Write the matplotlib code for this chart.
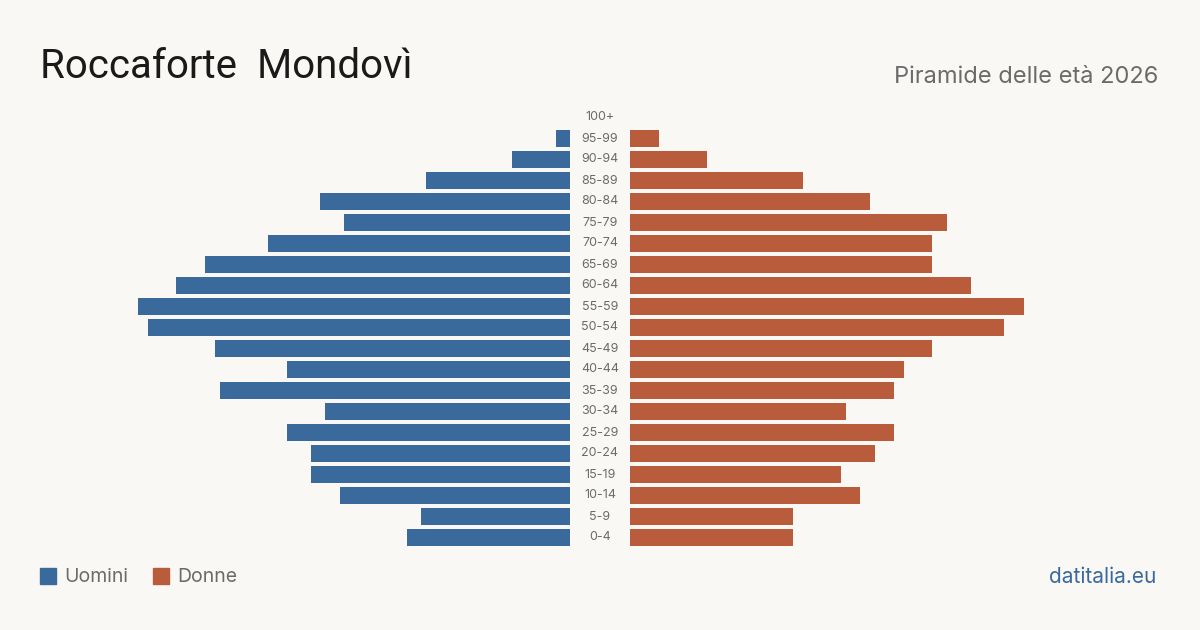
import matplotlib
matplotlib.use("Agg")
import matplotlib.pyplot as plt
import matplotlib.transforms as mtransforms
from matplotlib.patches import Rectangle

plt.rcParams['font.family'] = ['Inter', 'DejaVu Sans']

# age groups from bottom to top
ages = ["0-4", "5-9", "10-14", "15-19", "20-24", "25-29", "30-34", "35-39", "40-44",
        "45-49", "50-54", "55-59", "60-64", "65-69", "70-74", "75-79", "80-84",
        "85-89", "90-94", "95-99", "100+"]
uomini = [34, 31, 48, 54, 54, 59, 51, 73, 59, 74, 88, 90, 82, 76, 63, 47, 52, 30, 12, 3, 0]
donne = [34, 34, 48, 44, 51, 55, 45, 55, 57, 63, 78, 82, 71, 63, 63, 66, 50, 36, 16, 6, 0]

bg = "#f9f8f4"
blue = "#3a6a9c"
red = "#b85c3c"
grey = "#6b6b6b"

W, H = 1200, 630
fig = plt.figure(figsize=(12, 6.3), dpi=100, facecolor=bg)

# axes geometry in pixels
ybot = (H - 548) / H
yh = 441 / H
ax_l = fig.add_axes([90 / W, ybot, 480 / W, yh])
ax_r = fig.add_axes([630 / W, ybot, 480 / W, yh])

pos = list(range(len(ages)))
ax_l.barh(pos, uomini, height=0.81, color=blue)
ax_r.barh(pos, donne, height=0.81, color=red)

ax_l.set_xlim(100, 0)
ax_r.set_xlim(0, 100)
for ax in (ax_l, ax_r):
    ax.set_ylim(-0.5, len(ages) - 0.5)
    ax.set_facecolor("none")
    ax.axis("off")

# age labels in the middle
trans = mtransforms.blended_transform_factory(fig.transFigure, ax_l.transData)
for i, a in enumerate(ages):
    ax_l.text(0.5, i, a, transform=trans, ha="center", va="center",
              fontsize=9, color=grey, clip_on=False)

# titles
fig.text(40 / W, 1 - 67 / H, "Roccaforte  Mondovì", fontsize=29, color="#1a1a1a",
         ha="left", va="center", family=["Roboto", "DejaVu Sans"])
fig.text(1158 / W, 1 - 77 / H, "Piramide delle età 2026", fontsize=17, color=grey,
         ha="right", va="center")

# legend
for x0, lab, col in [(40, "Uomini", blue), (153, "Donne", red)]:
    fig.patches.append(Rectangle((x0 / W, 1 - 584 / H), 16 / W, 16 / H,
                                 transform=fig.transFigure, color=col))
    fig.text((x0 + 24) / W, 1 - 577 / H, lab, fontsize=14, color=grey,
             ha="left", va="center")

fig.text(1156 / W, 1 - 577 / H, "datitalia.eu", fontsize=15, color=blue,
         ha="right", va="center")

fig.savefig("out.png", dpi=100, facecolor=bg)
